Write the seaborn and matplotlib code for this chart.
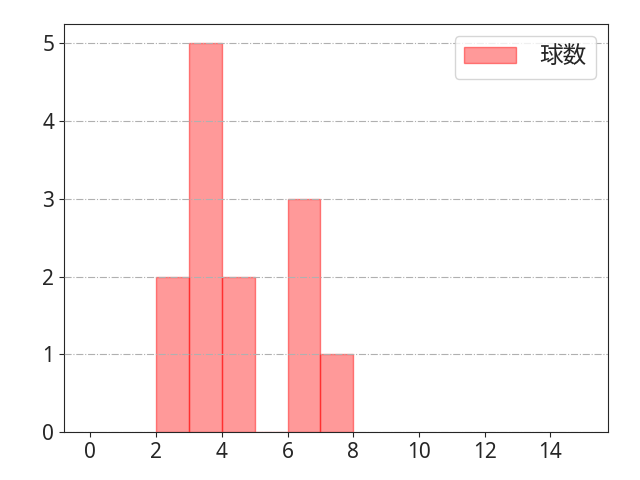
import matplotlib
matplotlib.use("Agg")
import matplotlib.pyplot as plt
import seaborn as sns

# histogram data
bin_edges = [2, 3, 4, 5, 6, 7, 8]
counts = [2, 5, 2, 0, 3, 1]
label = "球数"

sns.set_style("ticks")
plt.rcParams['font.family'] = ['Noto Sans', 'Noto Sans CJK JP', 'DejaVu Sans']

fig, ax = plt.subplots(figsize=(6.4, 4.8), dpi=100)
sns.histplot(x=bin_edges[:-1], weights=counts, bins=bin_edges, ax=ax,
             color='#ff0000', alpha=0.4, edgecolor=(1, 0, 0, 0.45), linewidth=1,
             label=label)

ax.set_xlim(-0.8, 15.75)
ax.set_ylim(0, 5.25)
ax.set_xticks(range(0, 15, 2))
ax.set_yticks(range(0, 6))
ax.tick_params(labelsize=15)
ax.set_xlabel('')
ax.set_ylabel('')
ax.grid(axis='y', linestyle='-.', color='#b0b0b0', linewidth=0.8)
ax.set_axisbelow(False)
ax.legend(loc='upper right', fontsize=17, handlelength=2.2, handletextpad=1.0)

fig.subplots_adjust(left=0.1, right=0.95, top=0.95, bottom=0.1)
plt.savefig("out.png", dpi=100)
